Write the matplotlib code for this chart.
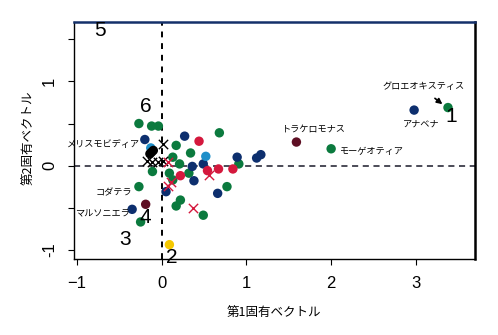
import matplotlib
import matplotlib.pyplot as plt

plt.switch_backend('agg')
plt.rcParams['font.family'] = ['Liberation Sans', 'Noto Sans CJK JP', 'DejaVu Sans']

# point groups (x = 1st eigenvector, y = 2nd)
green_x = [-0.27, -0.12, -0.04, 0.68, 0.17, 0.34, 0.13, 0.91, 0.21, -0.11, 0.09, 0.32,
           0.13, -0.27, 0.77, 0.22, 0.17, 0.49, -0.25, 2.0, 3.38]
green_y = [0.50, 0.47, 0.47, 0.39, 0.24, 0.15, 0.10, 0.02, 0.02, -0.07, -0.09, -0.09,
           -0.17, -0.25, -0.25, -0.41, -0.48, -0.59, -0.67, 0.20, 0.69]
navy_x = [-0.20, 0.27, 0.89, 1.12, 1.17, 0.36, 0.49, 0.38, 0.05, 0.66, -0.35, 2.98]
navy_y = [0.31, 0.35, 0.10, 0.09, 0.13, -0.01, 0.02, -0.18, -0.31, -0.33, -0.52, 0.66]
red_x = [0.44, 0.54, 0.67, 0.84, 0.22]
red_y = [0.29, -0.06, -0.04, -0.04, -0.12]
lblue_x = [-0.13, 0.52]
lblue_y = [0.21, 0.11]
black_x = [-0.14, -0.12, -0.10]
black_y = [0.14, 0.16, 0.18]
maroon_x = [1.59, -0.19]
maroon_y = [0.28, -0.46]
yellow_x = [0.09]
yellow_y = [-0.94]
xblack_x = [0.01, -0.17, -0.11, -0.05, 0.01]
xblack_y = [0.26, 0.06, 0.04, 0.04, 0.06]
xred_x = [0.07, 0.07, 0.11, 0.56, 0.37]
xred_y = [0.04, -0.24, -0.20, -0.11, -0.51]

names = ['メリスモビディア', 'コダテラ', 'マルソニエラ', 'トラケロモナス',
         'モーゲオティア', 'アナベナ', 'グロエオキスティス']
name_x = [-0.26, -0.35, -0.38, 1.42, 2.10, 3.06, 2.61]
name_y = [0.245, -0.325, -0.575, 0.43, 0.17, 0.49, 0.94]
name_ha = ['right', 'right', 'right', 'left', 'left', 'center', 'left']

nums = ['5', '6', '1', '4', '3', '2']
num_x = [-0.73, -0.19, 3.42, -0.19, -0.43, 0.12]
num_y = [1.61, 0.70, 0.58, -0.62, -0.88, -1.09]

fig = plt.figure(figsize=(4.98, 3.35), dpi=100)
ax = fig.add_axes([0.148, 0.227, 0.806, 0.708])

ax.axvline(0, color='black', ls=(0, (3, 3)), lw=1.4, zorder=1)
ax.axhline(0, color='#1a1a2a', ls=(0, (4, 3)), lw=1.1, zorder=1)

ms = 46
for xs, ys, c in [(green_x, green_y, '#0b7a3e'), (navy_x, navy_y, '#0d2f6e'),
                  (red_x, red_y, '#d4183d'), (lblue_x, lblue_y, '#1e8fc9'),
                  (black_x, black_y, 'black'), (maroon_x, maroon_y, '#5e0f24'),
                  (yellow_x, yellow_y, '#f5c800')]:
    ax.scatter(xs, ys, s=ms, color=c, edgecolors='none', zorder=3)
ax.scatter(xblack_x, xblack_y, marker='x', s=45, color='black', lw=1.0, zorder=4)
ax.scatter(xred_x, xred_y, marker='x', s=45, color='#d4183d', lw=1.0, zorder=4)

for n, x, y, ha in zip(names, name_x, name_y, name_ha):
    ax.text(x, y, n, fontsize=6.6, ha=ha, va='center',
            family=['Noto Sans CJK JP', 'DejaVu Sans'], zorder=5)
ax.annotate('', xy=(3.34, 0.71), xytext=(3.2, 0.82),
            arrowprops=dict(arrowstyle='-|>', color='black', lw=1.2, mutation_scale=8))

for n, x, y in zip(nums, num_x, num_y):
    ax.text(x, y, n, fontsize=15, ha='center', va='center', zorder=5)

ax.set_xlim(-1.04, 3.70)
ax.set_ylim(-1.11, 1.71)
ax.set_xticks([-1, 0, 1, 2, 3])
ax.set_yticks([-1, -0.5, 0, 0.5, 1, 1.5])
ax.set_yticklabels(['-1', '', '0', '', '1', ''], rotation=90, va='center')
ax.tick_params(labelsize=12, length=4, width=0.8, pad=8)
for s in ['left', 'bottom']:
    ax.spines[s].set_linewidth(1.0)
ax.spines['right'].set_linewidth(1.8)
ax.spines['top'].set_linewidth(1.8)
ax.spines['top'].set_color('#14306a')

fig.text(0.55, 0.066, '第1固有ベクトル', ha='center', va='center', fontsize=9,
         family=['Noto Sans CJK JP', 'DejaVu Sans'])
fig.text(0.056, 0.59, '第2固有ベクトル', ha='center', va='center', fontsize=9,
         rotation=90, family=['Noto Sans CJK JP', 'DejaVu Sans'])

plt.savefig('out.png', dpi=100)
